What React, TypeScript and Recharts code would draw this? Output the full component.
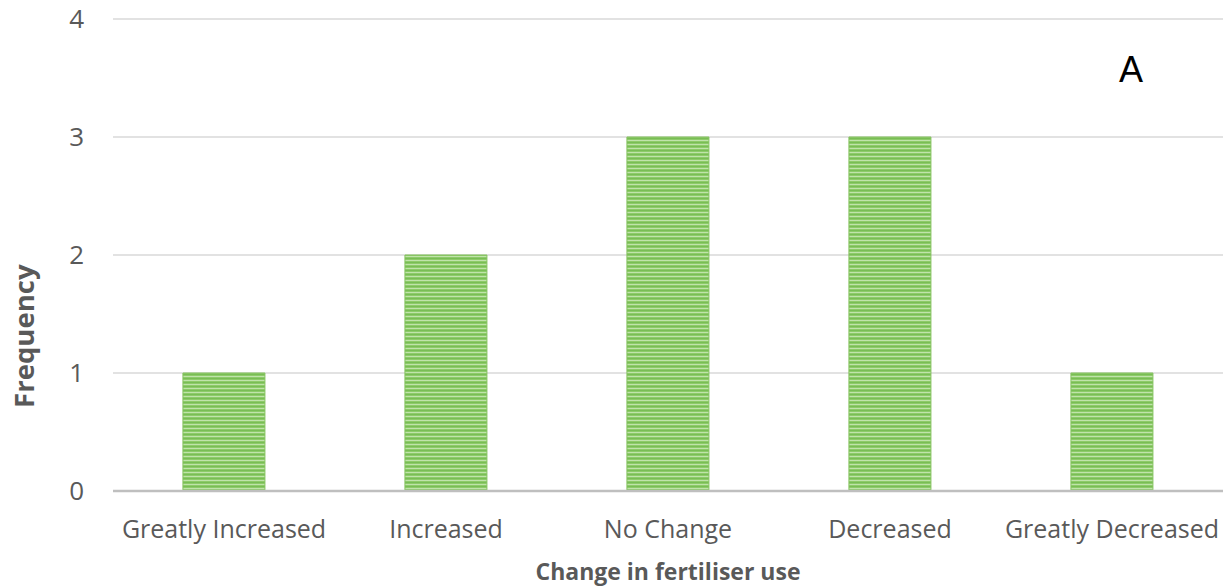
import React from 'react';
import { BarChart, Bar, XAxis, YAxis, CartesianGrid } from 'recharts';

const categories = ['Greatly Increased', 'Increased', 'No Change', 'Decreased', 'Greatly Decreased'];
const frequency = [1, 2, 3, 3, 1];
const yTicks = [0, 1, 2, 3, 4];

const data = categories.map((name, i) => ({ name, frequency: frequency[i] }));

const FONT = '"Open Sans", "Noto Sans", sans-serif';
const GREY = '#595959';

// rotated y-axis title, sitting below the plot's middle
const FrequencyLabel = (props: any) => {
  const vb = props.viewBox || {};
  const y = vb.y + vb.height * 0.672;
  return (
    <text
      x={24}
      y={y}
      transform={`rotate(-90, 24, ${y})`}
      textAnchor="middle"
      dominantBaseline="central"
      fontFamily={FONT}
      fontWeight={700}
      fontSize={27.5}
      fill={GREY}
    >
      Frequency
    </text>
  );
};

export default function App() {
  return (
    <div style={{ position: 'absolute', left: 0, top: 0, width: 1228, height: 587, background: '#fff' }}>
      <BarChart
        width={1228}
        height={587}
        data={data}
        margin={{ top: 19, right: 5, left: 0, bottom: 0 }}
        barCategoryGap="31.5%"
      >
        <defs>
          <pattern id="greenStripes" patternUnits="userSpaceOnUse" width={8} height={4}>
            <rect x={0} y={0} width={8} height={4} fill="#8dcb69" />
            <rect x={0} y={0} width={8} height={1} fill="#c0e3ab" />
            <rect x={0} y={2} width={8} height={1} fill="#79bd55" />
          </pattern>
        </defs>
        <CartesianGrid vertical={false} stroke="#d9d9d9" strokeWidth={1.5} />
        <XAxis
          dataKey="name"
          height={96}
          axisLine={{ stroke: '#bfbfbf', strokeWidth: 2.5 }}
          tickLine={false}
          tickSize={0}
          tickMargin={29}
          interval={0}
          tick={{ fontFamily: FONT, fontSize: 25, fill: GREY }}
          label={{
            value: 'Change in fertiliser use',
            position: 'insideBottom',
            offset: 7,
            fontFamily: FONT,
            fontWeight: 700,
            fontSize: 23,
            fill: GREY,
          }}
        />
        <YAxis
          width={113}
          domain={[0, 4]}
          ticks={yTicks}
          axisLine={false}
          tickLine={false}
          tickSize={0}
          tickMargin={29}
          tick={{ fontFamily: FONT, fontSize: 26, fill: GREY }}
          label={<FrequencyLabel />}
        />
        <Bar
          dataKey="frequency"
          fill="url(#greenStripes)"
          stroke="#84c25f"
          strokeWidth={1}
          isAnimationActive={false}
        />
      </BarChart>
      <div
        style={{
          position: 'absolute',
          left: 1119,
          top: 52,
          fontFamily: '"Liberation Sans", Arial, sans-serif',
          fontSize: 36,
          color: '#000',
          lineHeight: 1,
        }}
      >
        A
      </div>
    </div>
  );
}
